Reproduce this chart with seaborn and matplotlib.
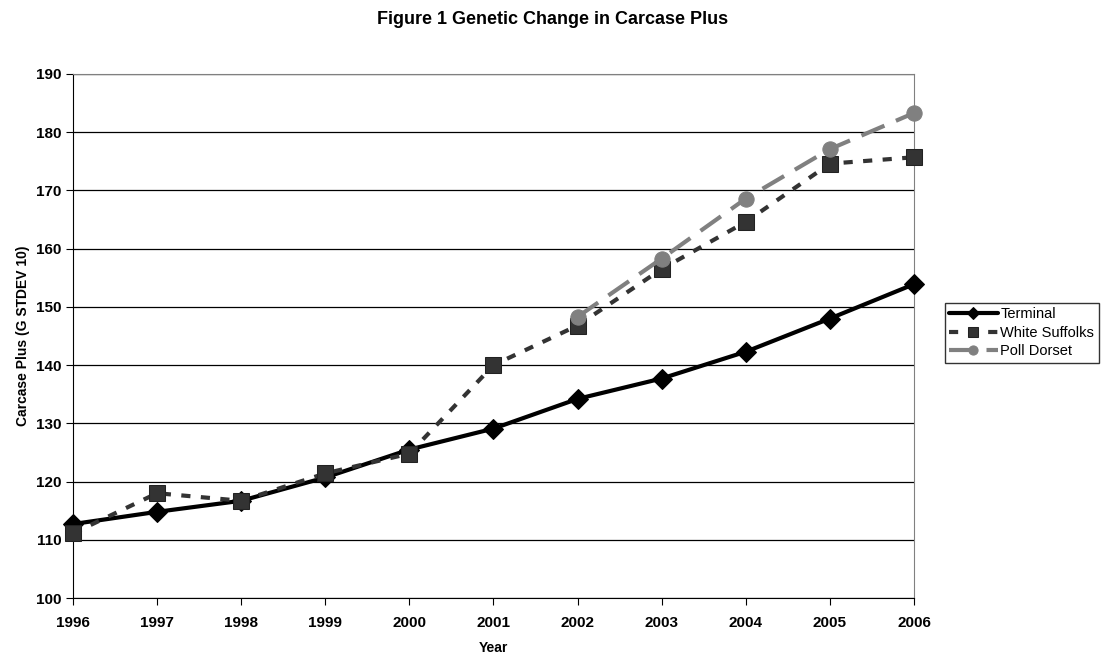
import numpy as np
import pandas as pd
import seaborn as sns
import matplotlib.pyplot as plt

years = [1996, 1997, 1998, 1999, 2000, 2001, 2002, 2003, 2004, 2005, 2006]
terminal = [112.7, 114.8, 116.7, 120.7, 125.5, 129.1, 134.2, 137.7, 142.3, 148.0, 153.9]
white_suffolks = [111.1, 118.0, 116.7, 121.4, 124.8, 140.0, 146.8, 156.5, 164.6, 174.6, 175.7]
poll_dorset = [np.nan, np.nan, np.nan, np.nan, np.nan, np.nan, 148.3, 158.3, 168.6, 177.1, 183.3]

df = pd.DataFrame({'Year': years, 'Terminal': terminal,
                   'White Suffolks': white_suffolks, 'Poll Dorset': poll_dorset})

sns.set_style('white')
plt.rcParams['font.family'] = ['Liberation Sans', 'DejaVu Sans']
plt.rcParams['text.color'] = 'black'
plt.rcParams['axes.labelcolor'] = 'black'
plt.rcParams['xtick.color'] = 'black'
plt.rcParams['ytick.color'] = 'black'

fig = plt.figure(figsize=(11.06, 6.55), dpi=100)
ax = fig.add_axes([73 / 1106, 57 / 655, 841 / 1106, 524 / 655])

sns.lineplot(data=df, x='Year', y='Terminal', ax=ax, color='black', linewidth=3,
             marker='D', markersize=10, markeredgecolor='black', label='Terminal',
             zorder=3, clip_on=False)
sns.lineplot(data=df, x='Year', y='White Suffolks', ax=ax, color='#333333', linewidth=3,
             marker='s', markersize=11, markeredgecolor='#222222',
             label='White Suffolks', zorder=4, clip_on=False)
ax.lines[-1].set_dashes([2.2, 2.5])
sns.lineplot(data=df.dropna(), x='Year', y='Poll Dorset', ax=ax, color='#808080', linewidth=3,
             marker='o', markersize=11, markeredgecolor='#808080', label='Poll Dorset',
             zorder=5, clip_on=False)
ax.lines[-1].set_dashes([6, 3])

ax.set_xlim(1996, 2006)
ax.set_ylim(100, 190)
ax.set_xticks(years)
ax.set_yticks(range(100, 191, 10))
ax.tick_params(axis='both', labelsize=11, length=5, direction='out',
               bottom=True, left=True)
ax.tick_params(axis='x', pad=8)
for lab in ax.get_xticklabels() + ax.get_yticklabels():
    lab.set_fontweight('bold')
ax.grid(axis='y', color='black', linewidth=0.9)
ax.set_axisbelow(True)
for s in ['top', 'right']:
    ax.spines[s].set_color('#808080')
for s in ['left', 'bottom']:
    ax.spines[s].set_color('black')

ax.set_xlabel('Year', fontsize=10, fontweight='bold', labelpad=8)
ax.set_ylabel('Carcase Plus (G STDEV 10)', fontsize=10, fontweight='bold', labelpad=4)
fig.suptitle('Figure 1 Genetic Change in Carcase Plus', x=553 / 1106, y=1 - 20 / 655,
             va='center', fontsize=13, fontweight='bold')

ax.legend_.remove()
h, l = ax.get_legend_handles_labels()
leg = fig.legend(h, l, loc='upper left', bbox_to_anchor=(945 / 1106, 1 - 303 / 655),
                 frameon=True, fancybox=False, fontsize=10.5, markerscale=0.6,
                 handlelength=3.3, borderpad=0.3, labelspacing=0.3, handletextpad=0.2,
                 borderaxespad=0)
leg.get_frame().set_edgecolor('black')
leg.get_frame().set_linewidth(1)

fig.savefig('out.png', dpi=100)
